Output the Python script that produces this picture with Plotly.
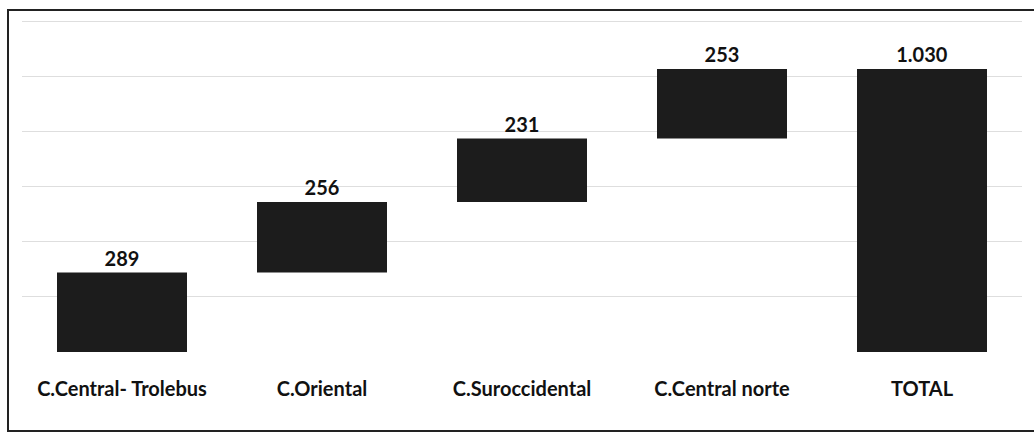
import plotly.graph_objects as go

categories = ["C.Central- Trolebus", "C.Oriental", "C.Suroccidental", "C.Central norte", "TOTAL"]
values = [289, 256, 231, 253, 1030]
measures = ["relative", "relative", "relative", "relative", "total"]
labels = ["289", "256", "231", "253", "1.030"]
grid_values = [0, 200, 400, 600, 800, 1000, 1200]

bar_color = "#1c1c1c"

fig = go.Figure(go.Waterfall(
    x=categories,
    y=values,
    measure=measures,
    text=labels,
    textposition="outside",
    textfont=dict(size=20, color="#111111", family="Lato", weight="bold"),
    increasing=dict(marker=dict(color=bar_color)),
    decreasing=dict(marker=dict(color=bar_color)),
    totals=dict(marker=dict(color=bar_color)),
    connector=dict(visible=False),
    width=0.65,
    cliponaxis=False,
    hoverinfo="skip",
))

fig.update_layout(
    width=1034, height=435,
    margin=dict(l=22, r=12, t=20, b=83),
    paper_bgcolor="white", plot_bgcolor="white",
    showlegend=False,
    font=dict(family="Lato", color="#111111"),
    xaxis=dict(
        showgrid=False, showline=False, ticks="",
        tickfont=dict(size=20, family="Lato", weight="bold", color="#111111"),
        ticklabelstandoff=23,
    ),
    yaxis=dict(
        range=[0, 1207], tickvals=grid_values,
        showticklabels=False,
        showgrid=True, gridcolor="#dedede", gridwidth=1,
        zeroline=False, showline=False, ticks="",
    ),
    shapes=[dict(
        type="rect", xref="paper", yref="paper",
        x0=-0.014, x1=1.03, y0=-0.238, y1=1.03,
        line=dict(color="#222222", width=2), fillcolor="rgba(0,0,0,0)",
    )],
)

fig.write_html("out.html", config={"displayModeBar": False},
               post_script="document.body.style.margin='0';")
